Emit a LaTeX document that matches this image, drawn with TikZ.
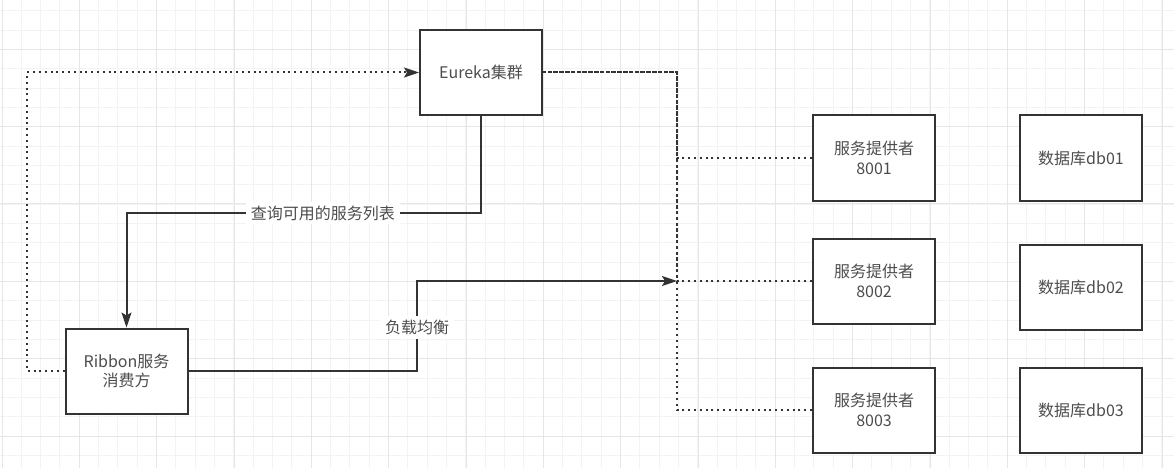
\documentclass[tikz,border=0pt]{standalone}
\usepackage{fontspec}
\newfontfamily\cjk{Noto Sans CJK SC}
\usetikzlibrary{arrows.meta}

\definecolor{linegray}{HTML}{333333}
\definecolor{textgray}{HTML}{4D4D4D}
\definecolor{gridminor}{HTML}{F3F3F3}
\definecolor{gridmajor}{HTML}{E6E6E6}

\tikzset{
  box/.style={draw=linegray, line width=2pt, fill=white, minimum width=122pt,
    minimum height=85pt, align=center, text=textgray,
    font=\cjk\fontsize{16}{19.5}\selectfont},
  solidline/.style={draw=linegray, line width=2pt},
  dotline/.style={draw=linegray, line width=2pt, dash pattern=on 2pt off 3.8pt},
  arrowhead/.style={-{Stealth[length=15pt,width=10pt,inset=3pt]}},
  lbl/.style={fill=white, text=textgray, inner xsep=5pt, inner ysep=4pt,
    font=\cjk\fontsize{16}{19.5}\selectfont}
}

\begin{document}
\begin{tikzpicture}[x=1pt,y=-1pt]

% Grid
\fill[white] (0,0) rectangle (1174,468);
\useasboundingbox (0,0) rectangle (1174,468);
\foreach \i in {0,...,60} \draw[gridminor,line width=1pt] ({2+19.333*\i},0) -- ++(0,468);
\foreach \j in {0,...,23} \draw[gridminor,line width=1pt] (0,{10.67+19.333*\j}) -- ++(1174,0);
\foreach \i in {0,...,15} \draw[gridmajor,line width=1pt] ({2+77.333*\i},0) -- ++(0,468);
\foreach \j in {0,...,5} \draw[gridmajor,line width=1pt] (0,{49.33+77.333*\j}) -- ++(1174,0);

% Boxes
\node[box] (eureka) at (481,72.5) {Eureka集群};
\node[box] (ribbon) at (126.5,371) {Ribbon服务\\消费方};
\node[box] (prov1) at (874,158) {服务提供者\\8001};
\node[box] (prov2) at (874,281) {服务提供者\\8002};
\node[box] (prov3) at (874,410) {服务提供者\\8003};
\node[box] (db1) at (1081,158) {数据库db01};
\node[box] (db2) at (1081,287) {数据库db02};
\node[box] (db3) at (1081,410) {数据库db03};

% Turning points
\coordinate (bend) at (677,72.5);
\coordinate (hub) at (677,281);
\coordinate (leftturn) at (27,371);

% Registry links
\draw[dotline] (prov1.west) -| (bend) -- (eureka.east);
\draw[dotline] (prov2.west) -| (bend) -- (eureka.east);
\draw[dotline] (prov3.west) -| (bend) -- (eureka.east);
\draw[dotline,arrowhead] (ribbon.west) -- (leftturn) |- (eureka.west);

% Calls
\draw[solidline,arrowhead] (eureka.south) -- (481,213) -| node[lbl,pos=0.223] {查询可用的服务列表} (ribbon.north);
\draw[solidline,arrowhead] (ribbon.east) -- (417,371) |- node[lbl,pos=0.24] {负载均衡} (hub);

\end{tikzpicture}
\end{document}
